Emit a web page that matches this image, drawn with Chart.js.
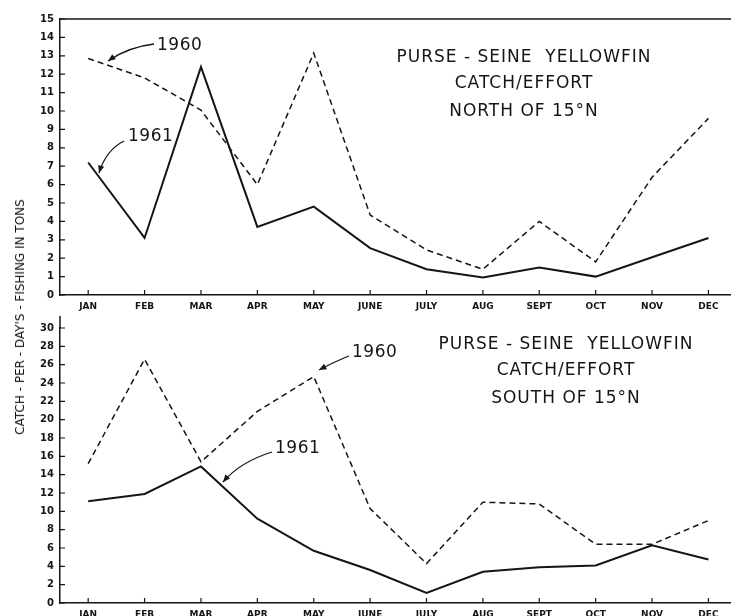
<!DOCTYPE html>
<html>
<head>
<meta charset="utf-8">
<script src="https://cdn.jsdelivr.net/npm/chart.js"></script>
<style>
  body { margin: 0; background: #fff; }
  #wrap { position: relative; width: 731px; height: 616px; overflow: hidden; }
  .box { position: absolute; left: 0; width: 731px; }
  #ylab {
    position: absolute; left: 20px; top: 317px;
    transform: translate(-50%, -50%) rotate(-90deg);
    white-space: nowrap; font: 12px "DejaVu Sans", sans-serif; color: #111;
  }
</style>
</head>
<body>
<div id="wrap">
  <div class="box" style="top:0;height:316px"><canvas id="north"></canvas></div>
  <div class="box" style="top:316px;height:300px"><canvas id="south"></canvas></div>
  <div id="ylab">CATCH - PER - DAY'S - FISHING IN TONS</div>
</div>
<script>
// months on the x axis
const months = ["JAN", "FEB", "MAR", "APR", "MAY", "JUNE", "JULY", "AUG", "SEPT", "OCT", "NOV", "DEC"];

// north of 15°N
const north1960 = [12.85, 11.8, 10.05, 6.0, 13.15, 4.35, 2.45, 1.4, 4.0, 1.8, 6.4, 9.6];
const north1961 = [7.2, 3.1, 12.4, 3.7, 4.8, 2.55, 1.4, 0.95, 1.5, 1.0, 2.05, 3.1];
const northTicks = [0, 1, 2, 3, 4, 5, 6, 7, 8, 9, 10, 11, 12, 13, 14, 15];

// south of 15°N
const south1960 = [15.2, 26.6, 15.4, 20.9, 24.7, 10.3, 4.3, 11.0, 10.8, 6.4, 6.4, 9.0];
const south1961 = [11.1, 11.9, 14.9, 9.2, 5.7, 3.6, 1.1, 3.4, 3.9, 4.1, 6.3, 4.75];
const southTicks = [0, 2, 4, 6, 8, 10, 12, 14, 16, 18, 20, 22, 24, 26, 28, 30];

const INK = "#151515";

function pts(arr) {
  return arr.map((v, i) => ({ x: i, y: v }));
}

function arrow(ctx, sx, sy, cx, cy, tx, ty) {
  ctx.beginPath();
  ctx.moveTo(sx, sy);
  ctx.quadraticCurveTo(cx, cy, tx, ty);
  ctx.stroke();
  const a = Math.atan2(ty - cy, tx - cx);
  ctx.beginPath();
  ctx.moveTo(tx, ty);
  ctx.lineTo(tx - 8 * Math.cos(a - 0.4), ty - 8 * Math.sin(a - 0.4));
  ctx.lineTo(tx - 8 * Math.cos(a + 0.4), ty - 8 * Math.sin(a + 0.4));
  ctx.closePath();
  ctx.fill();
}

const decoPlugin = {
  id: "deco",
  afterDatasetsDraw(chart, args, o) {
    const { ctx, chartArea: a, scales: { x, y } } = chart;
    ctx.save();
    ctx.strokeStyle = INK;
    ctx.fillStyle = INK;
    ctx.lineWidth = 1.2;

    // ticks pointing into the plot
    ctx.beginPath();
    y.ticks.forEach(t => {
      const py = y.getPixelForValue(t.value);
      ctx.moveTo(a.left, py);
      ctx.lineTo(a.left + 5, py);
    });
    x.ticks.forEach(t => {
      const px = x.getPixelForValue(t.value);
      ctx.moveTo(px, a.bottom);
      ctx.lineTo(px, a.bottom - 5);
    });
    ctx.stroke();

    ctx.lineWidth = 1.5;
    ctx.beginPath();
    if (o.frameTop) {
      ctx.moveTo(a.left, a.top);
      ctx.lineTo(a.right, a.top);
    }
    if (o.extendUp) {
      ctx.moveTo(a.left, 0);
      ctx.lineTo(a.left, a.top);
    }
    ctx.stroke();

    // title block
    ctx.font = '17px "DejaVu Sans", sans-serif';
    ctx.letterSpacing = "1px";
    ctx.textAlign = "center";
    ctx.textBaseline = "middle";
    o.title.forEach((s, i) => ctx.fillText(s, o.tx, o.ty[i]));

    // year labels with arrows
    ctx.font = '17px "DejaVu Sans", sans-serif';
    ctx.letterSpacing = "0.5px";
    ctx.textAlign = "left";
    ctx.lineWidth = 1.3;
    o.notes.forEach(n => {
      ctx.fillText(n.text, n.lx, n.ly);
      arrow(ctx, ...n.path);
    });
    ctx.restore();
  }
};

function makeChart(id, d1960, d1961, yTicks, yMax, xHeight, padTop, decoOpts) {
  return new Chart(document.getElementById(id), {
    type: "line",
    data: {
      datasets: [
        {
          label: "1960",
          data: pts(d1960),
          borderColor: INK,
          borderWidth: 1.5,
          borderDash: [6, 4],
          pointRadius: 0,
          tension: 0
        },
        {
          label: "1961",
          data: pts(d1961),
          borderColor: INK,
          borderWidth: 2,
          pointRadius: 0,
          tension: 0
        }
      ]
    },
    options: {
      responsive: true,
      maintainAspectRatio: false,
      animation: false,
      layout: { padding: { top: padTop, left: 0, right: 0, bottom: 0 } },
      plugins: {
        legend: { display: false },
        tooltip: { enabled: false },
        deco: decoOpts
      },
      scales: {
        x: {
          type: "linear",
          min: -0.5,
          max: 11.4,
          grid: { display: false, drawTicks: false },
          border: { display: true, color: INK, width: 1.5 },
          afterBuildTicks: s => { s.ticks = months.map((m, i) => ({ value: i })); },
          afterFit: s => { s.height = xHeight; },
          ticks: {
            color: INK,
            font: { family: "DejaVu Sans", size: 9, weight: "bold" },
            padding: 6,
            maxRotation: 0,
            autoSkip: false,
            callback: v => months[v]
          }
        },
        y: {
          min: 0,
          max: yMax,
          grid: { display: false, drawTicks: false },
          border: { display: true, color: INK, width: 1.5 },
          afterBuildTicks: s => { s.ticks = yTicks.map(v => ({ value: v })); },
          afterFit: s => { s.width = 60; },
          ticks: {
            color: INK,
            font: { family: "DejaVu Sans", size: 10, weight: "bold" },
            padding: 6,
            callback: v => v
          }
        }
      }
    },
    plugins: [decoPlugin]
  });
}

makeChart("north", north1960, north1961, northTicks, 15, 21, 19, {
  frameTop: true,
  extendUp: false,
  title: ["PURSE - SEINE  YELLOWFIN", "CATCH/EFFORT", "NORTH OF 15°N"],
  tx: 524,
  ty: [58, 84, 112],
  notes: [
    { text: "1960", lx: 157, ly: 46, path: [154, 44, 128, 47, 108, 61] },
    { text: "1961", lx: 128, ly: 137, path: [124, 141, 106, 150, 99, 173] }
  ]
});

makeChart("south", south1960, south1961, southTicks, 30, 13, 10, {
  frameTop: false,
  extendUp: true,
  title: ["PURSE - SEINE  YELLOWFIN", "CATCH/EFFORT", "SOUTH OF 15°N"],
  tx: 566,
  ty: [29, 55, 83],
  notes: [
    { text: "1960", lx: 352, ly: 37, path: [349, 40, 336, 45, 319, 54] },
    { text: "1961", lx: 275, ly: 133, path: [272, 136, 240, 146, 223, 166] }
  ]
});
</script>
</body>
</html>
